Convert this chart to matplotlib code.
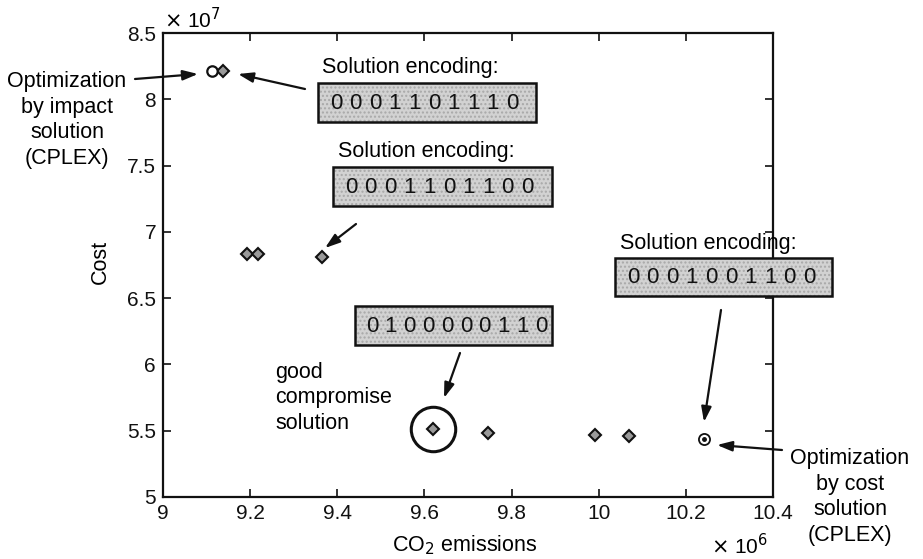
import matplotlib
matplotlib.use("Agg")
import matplotlib.pyplot as plt
from matplotlib.patches import Rectangle

plt.rcParams['font.family'] = ['Liberation Sans', 'DejaVu Sans']

# ---- data (x in 1e6 t CO2, y in 1e7 cost units) ----
ga_co2 = [9.138, 9.192, 9.219, 9.366, 9.619, 9.745, 9.991, 10.07]
ga_cost = [8.21, 6.83, 6.83, 6.81, 5.51, 5.48, 5.47, 5.46]
impact_co2 = [9.112]
impact_cost = [8.21]
costopt_co2 = [10.242]
costopt_cost = [5.44]
compromise_co2 = [9.619]
compromise_cost = [5.51]

x_ticks = [9, 9.2, 9.4, 9.6, 9.8, 10, 10.2, 10.4]
x_ticklabels = ["9", "9.2", "9.4", "9.6", "9.8", "10", "10.2", "10.4"]
y_ticks = [5, 5.5, 6, 6.5, 7, 7.5, 8, 8.5]
y_ticklabels = ["5", "5.5", "6", "6.5", "7", "7.5", "8", "8.5"]

encodings = ["0001101110", "0001101100", "0100000110", "0001001100"]

W, H = 923, 559
fig = plt.figure(figsize=(W / 100, H / 100), dpi=100)
ax = fig.add_axes([163 / W, 1 - 497 / H, 610 / W, 464 / H])


def F(x, y):
    return (x / W, 1 - y / H)


ax.plot(ga_co2, ga_cost, linestyle='none', marker='D', markersize=6.5,
        markerfacecolor='#9a9a9a', markeredgecolor='#111111', markeredgewidth=1.5, zorder=3)
ax.plot(impact_co2, impact_cost, linestyle='none', marker='o', markersize=7.5,
        markerfacecolor='white', markeredgecolor='#111111', markeredgewidth=1.6, zorder=3)
ax.plot(costopt_co2, costopt_cost, linestyle='none', marker='o', markersize=8,
        markerfacecolor='white', markeredgecolor='#111111', markeredgewidth=1.3, zorder=3)
ax.plot(costopt_co2, costopt_cost, linestyle='none', marker='o', markersize=2.5,
        markerfacecolor='#111111', markeredgecolor='#111111', zorder=4)
ax.plot(compromise_co2, compromise_cost, linestyle='none', marker='o', markersize=32,
        markerfacecolor='none', markeredgecolor='#111111', markeredgewidth=2.2, zorder=3)

ax.set_xlim(9, 10.4)
ax.set_ylim(5, 8.5)
ax.set_xticks(x_ticks)
ax.set_xticklabels(x_ticklabels)
ax.set_yticks(y_ticks)
ax.set_yticklabels(y_ticklabels)
ax.tick_params(direction='in', length=6, width=1.2, top=True, right=True,
               labelsize=15, colors='#111111', pad=5)
for s in ax.spines.values():
    s.set_linewidth(1.6)
    s.set_color('#111111')

fig.text(*F(100, 262), "Cost", rotation=90, ha='center', va='center', fontsize=15.5)
fig.text(*F(465, 545), "CO$_2$ emissions", ha='center', va='center', fontsize=15.5)
fig.text(*F(192, 20), r"$\times$ 10$^7$", ha='center', va='center', fontsize=15)
fig.text(*F(740, 546), r"$\times$ 10$^6$", ha='center', va='center', fontsize=15)

tfs = 15.5
fig.text(*F(67, 120), "Optimization\nby impact\nsolution\n(CPLEX)", ha='center', va='center',
         fontsize=tfs, linespacing=1.3)
fig.text(*F(850, 497), "Optimization\nby cost\nsolution\n(CPLEX)", ha='center', va='center',
         fontsize=tfs, linespacing=1.3)
fig.text(*F(275, 398), "good\ncompromise\nsolution", ha='left', va='center',
         fontsize=tfs, linespacing=1.3)

fig.text(*F(322, 67), "Solution encoding:", ha='left', va='center', fontsize=tfs)
fig.text(*F(338, 151), "Solution encoding:", ha='left', va='center', fontsize=tfs)
fig.text(*F(620, 243), "Solution encoding:", ha='left', va='center', fontsize=tfs, zorder=1)

# boxes: (left, top, right, bottom) in pixels, first-digit offset, digit pitch
boxes = [(318, 83, 536, 122, 18, 19.6), (333, 167, 552, 206, 18, 19.6),
         (355, 306, 552, 345, 17, 18.8), (615, 258, 832, 296, 18, 19.6)]
for (l, t, r, b, off, pitch), code in zip(boxes, encodings):
    x0, y0 = F(l, b)
    w, h = (r - l) / W, (b - t) / H
    fig.patches.append(Rectangle((x0, y0), w, h, transform=fig.transFigure,
                                 facecolor='#d2d2d2', edgecolor='#a8a8a8', hatch='....',
                                 linewidth=0, zorder=5))
    fig.patches.append(Rectangle((x0, y0), w, h, transform=fig.transFigure,
                                 facecolor='none', edgecolor='#111111', linewidth=1.8, zorder=6))
    for i, ch in enumerate(code):
        fig.text(*F(l + off + i * pitch, (t + b) / 2 + 1), ch, ha='center', va='center',
                 fontsize=16, color='#111111', zorder=7)

arrow = dict(arrowstyle='-|>,head_length=0.9,head_width=0.3', lw=1.6, color='#111111',
             shrinkA=0, shrinkB=0)
arrows = [((135, 79), (198, 74)), ((305, 89), (238, 74)), ((356, 224), (325, 248)),
          ((460, 353), (444, 398)), ((721, 310), (704, 422)), ((782, 450), (717, 445))]
for (s, e) in arrows:
    ax.annotate("", xy=F(*e), xycoords='figure fraction', xytext=F(*s),
                textcoords='figure fraction', arrowprops=arrow, annotation_clip=False)

fig.savefig("out.png", dpi=100)
